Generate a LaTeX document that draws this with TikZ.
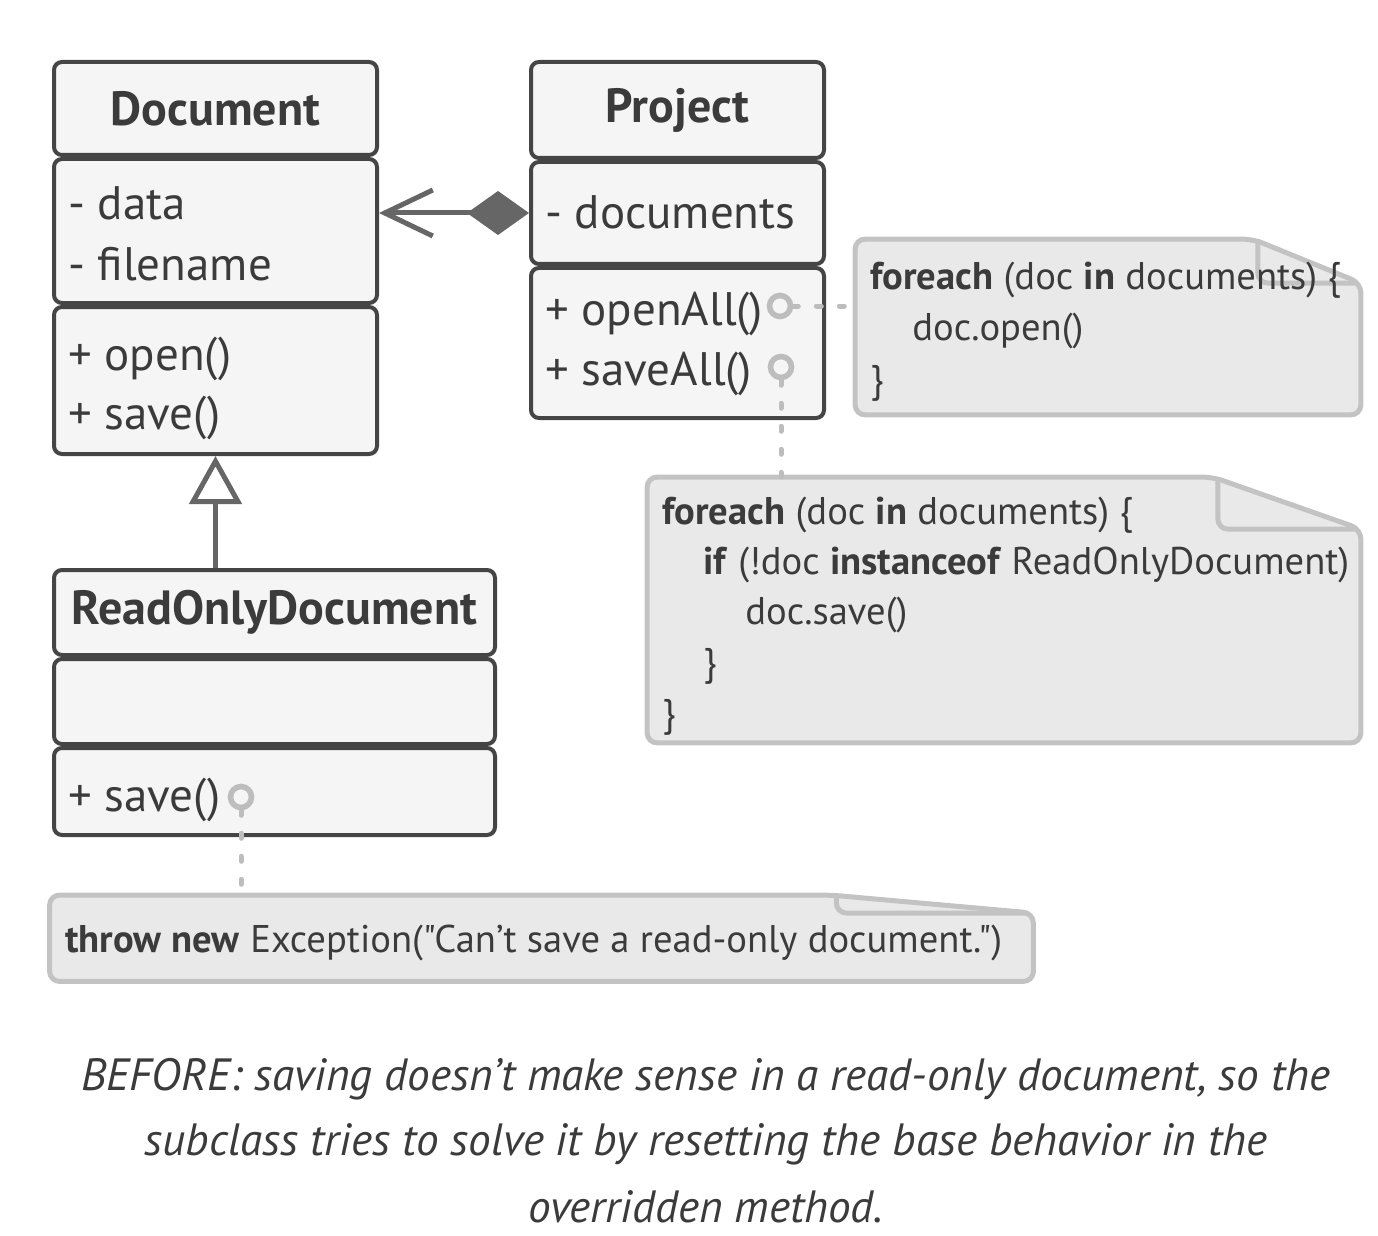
\documentclass[tikz,border=0pt]{standalone}
\usepackage{fontspec}
\setmainfont{PT Sans}[Ligatures=TeXOff]
\usepackage{xcolor}
\usetikzlibrary{arrows.meta, positioning, calc}

\definecolor{umlline}{HTML}{454545}
\definecolor{umlfill}{HTML}{F5F5F5}
\definecolor{umltext}{HTML}{3B3B3B}
\definecolor{linkgray}{HTML}{666666}
\definecolor{notefill}{HTML}{E9E9E9}
\definecolor{noteline}{HTML}{C3C3C3}
\definecolor{hookgray}{HTML}{BDBDBD}

\begin{document}
\begin{tikzpicture}[
    x=0.5pt, y=-0.5pt,
    font=\fontsize{23.5}{28}\selectfont, text=umltext,
    compart/.style={rectangle, rounded corners=4pt, draw=umlline, line width=2pt, fill=umlfill, inner sep=0pt},
    classname/.style={compart, font=\fontsize{24}{28}\selectfont\bfseries},
    member/.style={anchor=base west, inner sep=0pt},
    notearea/.style={rectangle, inner sep=0pt},
    notebox/.style={draw=noteline, fill=notefill, line width=2.5pt, rounded corners=5pt},
    notefold/.style={draw=noteline, line width=2.5pt, rounded corners=5pt},
    codeline/.style={anchor=base west, inner sep=0pt, font=\fontsize{19.3}{23}\selectfont},
    hook/.style={circle, draw=hookgray, line width=2.8pt, minimum size=10.5pt, inner sep=0pt},
    notelink/.style={draw=hookgray, line width=2.5pt, line cap=round, dash pattern=on 2.5pt off 9pt},
    aggregation/.style={{Diamond[length=31pt,width=22pt]}-{Straight Barb[length=24pt,width=23pt]}, draw=linkgray, line width=2.5pt},
    inherit/.style={-{Triangle[length=24pt,width=26pt,fill=white]}, draw=linkgray, line width=2.5pt},
    captionline/.style={anchor=base, inner sep=0pt, font=\fontsize{22.6}{30}\selectfont\itshape}
]
\useasboundingbox (0,0) rectangle (1378,1236);

% Class: Document
\node[classname, minimum width=161.5pt, minimum height=46.5pt] (docName) at (215.5,108.5) {Document};
\node[compart, minimum width=161.5pt, minimum height=72pt] (docAttrs) at (215.5,231) {};
\node[compart, minimum width=161.5pt, minimum height=73.5pt] (docOps) at (215.5,380.5) {};
\node[member] (docData) at (68,220) {- data};
\node[member] (docFile) at (68,280) {- filename};
\node[member] (docOpen) at (68,370) {+ open()};
\node[member] (docSave) at (68,429) {+ save()};

% Class: Project
\node[classname, minimum width=146.5pt, minimum height=48pt] (prjName) at (677.5,110) {Project};
\node[compart, minimum width=146.5pt, minimum height=51pt] (prjAttrs) at (677.5,213) {};
\node[compart, minimum width=146.5pt, minimum height=75pt] (prjOps) at (677.5,343) {};
\node[member] (prjDocs) at (545,228) {- documents};
\node[member] (prjOpen) at (545,325) {+ openAll()};
\node[member] (prjSave) at (545,386) {+ saveAll()};

% Class: ReadOnlyDocument
\node[classname, minimum width=220.5pt, minimum height=42.5pt] (rodName) at (274.5,612.5) {ReadOnlyDocument};
\node[compart, minimum width=220.5pt, minimum height=42.5pt] (rodAttrs) at (274.5,701.5) {};
\node[compart, minimum width=220.5pt, minimum height=43.5pt] (rodOps) at (274.5,791.5) {};
\node[member] (rodSave) at (68,811) {+ save()};

% Notes
\node[notearea, minimum width=252.5pt, minimum height=87.5pt] (openNote) at (1108,327) {};
\draw[notebox] (openNote.south west) |- ($(openNote.north east)+(-108,0)$) -- ($(openNote.north east)+(0,44)$) -- (openNote.south east) -- cycle;
\draw[notefold] ($(openNote.north east)+(-103,0)$) -- ($(openNote.north east)+(-103,44)$) -- ($(openNote.north east)+(-6,44)$);
\node[codeline] (openL1) at (870,290) {\textbf{foreach} (doc \textbf{in} documents) \{};
\node[codeline] (openL2) at (912,341) {doc.open()};
\node[codeline] (openL3) at (870,392) {\}};

\node[notearea, minimum width=356.5pt, minimum height=132.5pt] (saveNote) at (1004,610) {};
\draw[notebox] (saveNote.south west) |- ($(saveNote.north east)+(-148,0)$) -- ($(saveNote.north east)+(0,52)$) -- (saveNote.south east) -- cycle;
\draw[notefold] ($(saveNote.north east)+(-143,0)$) -- ($(saveNote.north east)+(-143,52)$) -- ($(saveNote.north east)+(-6,52)$);
\node[codeline] (saveL1) at (662,524) {\textbf{foreach} (doc \textbf{in} documents) \{};
\node[codeline] (saveL2) at (703,574) {\textbf{if} (!doc \textbf{instanceof} ReadOnlyDocument)};
\node[codeline] (saveL3) at (745,624) {doc.save()};
\node[codeline] (saveL4) at (703,675) {\}};
\node[codeline] (saveL5) at (662,726) {\}};

\node[notearea, minimum width=491.5pt, minimum height=42.75pt] (throwNote) at (541.5,938.25) {};
\draw[notebox] (throwNote.south west) |- ($(throwNote.north east)+(-202,0)$) -- ($(throwNote.north east)+(0,18)$) -- (throwNote.south east) -- cycle;
\draw[notefold] ($(throwNote.north east)+(-197,0)$) -- ($(throwNote.north east)+(-197,18)$) -- ($(throwNote.north east)+(-6,18)$);
\node[codeline] (throwL1) at (65,952) {\textbf{throw new} Exception("Can’t save a read-only document.")};

% Hooks and note links
\node[hook] (openHook) at (780,306) {};
\node[hook] (saveAllHook) at (781,367) {};
\node[hook] (rodHook) at (241,797) {};
\draw[notelink] (openHook.east) -- (openHook.east -| openNote.west);
\draw[notelink] (saveAllHook.south) -- (saveAllHook.south |- saveNote.north);
\draw[notelink] (rodHook.south) -- (rodHook.south |- throwNote.north);

% Relations
\draw[aggregation] (prjAttrs.west) -- (prjAttrs.west -| docAttrs.east);
\draw[inherit] (docOps.south |- rodName.north) -- (docOps.south);

% Caption
\node[captionline] (cap1) at (706,1090) {BEFORE: saving doesn’t make sense in a read-only document, so the};
\node[captionline] (cap2) at (706,1155) {subclass tries to solve it by resetting the base behavior in the};
\node[captionline] (cap3) at (706,1222) {overridden method.};

\end{tikzpicture}
\end{document}
